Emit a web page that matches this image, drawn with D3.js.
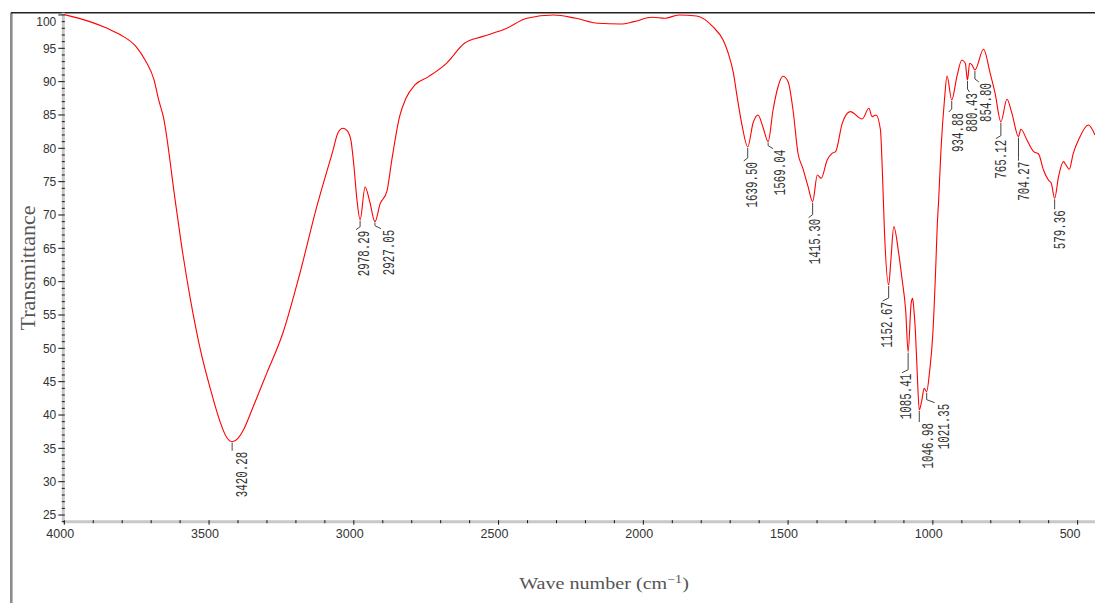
<!DOCTYPE html>
<html>
<head>
<meta charset="utf-8">
<script src="https://cdn.jsdelivr.net/npm/d3@7/dist/d3.min.js"></script>
<style>
    body { margin: 0; background: #fff; }
    svg { display: block; }
</style>
</head>
<body>
<div id="chart"></div>
<script>
// spectrum (wave number in cm-1, transmittance in %)
var waveNumbers = [4000, 3912, 3852, 3805, 3752, 3721, 3690, 3674, 3658, 3617, 3590, 3565, 3531, 3496, 3462, 3440,
    3420.28, 3400, 3382, 3348, 3301, 3245, 3186, 3128, 3072, 3055, 3038, 3024, 3010, 3000, 2989, 2978.29, 2961, 2945,
    2927.05, 2909, 2886, 2869, 2842, 2820, 2789, 2742, 2680, 2618, 2557, 2480, 2402, 2310, 2233, 2157, 2079, 2032,
    1970, 1925, 1878, 1816, 1759, 1724, 1707, 1689, 1676, 1658, 1639.5, 1621, 1604, 1587, 1569.04, 1552, 1535, 1518,
    1500, 1483, 1466, 1449, 1431, 1415.3, 1399, 1386, 1365, 1348, 1336, 1313, 1285, 1244, 1221, 1210, 1196, 1181,
    1175, 1167, 1152.67, 1145, 1135, 1118, 1106, 1094, 1085.41, 1075, 1070, 1066, 1060, 1054, 1046.98, 1038, 1030,
    1021.35, 1012, 1000, 990, 985, 980, 972, 960, 951, 934.88, 917, 900, 888, 880.43, 873, 865, 854.8, 825, 802, 785,
    765.12, 744, 727, 704.27, 696, 675, 652, 635, 618, 601, 591, 579.36, 566, 549, 540, 529, 515, 497, 463, 440];
var transmittance = [100.05, 99.0, 98.0, 97.0, 95.25, 93.25, 90.25, 87.25, 84.75, 72.2, 64.0, 57.5, 50.0, 44.0, 39.0, 36.7,
    36.0, 36.5, 37.7, 41.2, 46.25, 52.3, 61.3, 71.25, 79.7, 82.3, 83.0, 82.7, 81.2, 77.5, 72.2, 69.3, 74.2, 72.0,
    69.0, 71.7, 73.5, 78.2, 84.75, 87.5, 89.5, 90.75, 92.75, 95.75, 96.75, 97.85, 99.5, 100.0, 99.5, 98.75, 98.65, 99.0,
    99.65, 99.5, 100.0, 99.85, 98.2, 96.2, 94.3, 91.3, 87.7, 83.2, 80.2, 83.8, 85.0, 83.2, 81.0, 85.75, 89.2, 90.8,
    90.0, 85.75, 79.3, 77.0, 74.25, 72.0, 76.0, 75.5, 78.25, 79.25, 79.5, 83.75, 85.5, 84.4, 86.0, 84.75, 85.0, 82.75,
    77.25, 67.3, 59.5, 63.25, 68.25, 64.25, 60.25, 55.75, 49.5, 56.75, 57.5, 56.0, 52.25, 46.25, 40.75, 42.25, 44.0,
    43.5, 46.25, 52.25, 62.25, 68.25, 72.25, 79.75, 87.25, 90.85, 87.25, 90.75, 93.25, 92.75, 90.25, 92.75, 92.5,
    91.75, 94.85, 91.25, 88.25, 84.0, 87.35, 85.25, 81.75, 82.85, 81.25, 79.5, 79.15, 76.75, 75.25, 74.75, 72.5,
    75.75, 78.0, 77.5, 76.85, 79.25, 81.25, 83.5, 82.0];

// marked peaks
var peakWaveNumbers = [3420.28, 2978.29, 2927.05, 1639.50, 1569.04, 1415.30, 1152.67, 1085.41, 1046.98, 1021.35,
    934.88, 880.43, 854.80, 765.12, 704.27, 579.36];
var peakTransmittance = [36.0, 69.3, 69.0, 80.2, 81.0, 72.0, 59.5, 49.5, 40.75, 43.5,
    87.25, 90.25, 91.75, 84.0, 81.75, 72.5];

var xTicks = [4000, 3500, 3000, 2500, 2000, 1500, 1000, 500];
var yTicks = [25, 30, 35, 40, 45, 50, 55, 60, 65, 70, 75, 80, 85, 90, 95, 100];

// label placement: [text offset x, gap below curve, hook of leader]
var labelPlacement = [[9, 10, 0], [3, 11, -4], [13, 8, 6], [3, 15, -4], [11, 8, 5], [1, 17, -4], [-3, 17, -6],
    [-3, 22, -6], [8, 13, 0], [16, 12, 8], [5, 13, -3], [4, 13, 2], [10, 13, 4], [-1, 18, -5], [5, 25, 0], [4, 12, 0]];

var width = 1095, height = 603;
var plotLeft = 64.3, plotRight = 1095, plotTop = 12.7, plotBottom = 521.7;

var svg = d3.select("#chart")
    .append("svg")
    .attr("width", width)
    .attr("height", height);

var x = d3.scaleLinear().domain([4000, 440]).range([plotLeft, plotRight]);
var y = d3.scaleLinear().domain([24, 100.34]).range([plotBottom, plotTop]);

// frame: grey bar on the left, dark line on top
svg.append("rect")
    .attr("x", 10).attr("y", plotTop).attr("width", 2.6).attr("height", height - plotTop)
    .attr("fill", "#8c8c8c");
svg.append("line")
    .attr("x1", 11).attr("x2", width).attr("y1", plotTop).attr("y2", plotTop)
    .attr("stroke", "#222").attr("stroke-width", 1.5);

// axis lines
svg.append("line")
    .attr("x1", plotLeft - 1).attr("x2", plotLeft - 1).attr("y1", plotTop).attr("y2", plotBottom)
    .attr("stroke", "#c8c8c8").attr("stroke-width", 3);
svg.append("line")
    .attr("x1", plotLeft - 1).attr("x2", width).attr("y1", plotBottom).attr("y2", plotBottom)
    .attr("stroke", "#c8c8c8").attr("stroke-width", 3);

// y axis ticks
var yMinor = d3.range(24, 101, 1);
svg.append("g").selectAll("line")
    .data(yMinor)
    .enter().append("line")
    .attr("x1", function(d) { return d % 5 === 0 ? plotLeft - 6 : plotLeft - 2.5; })
    .attr("x2", plotLeft + 0.5)
    .attr("y1", function(d) { return y(d); })
    .attr("y2", function(d) { return y(d); })
    .attr("stroke", "#111").attr("stroke-width", 1);

// the top label is pushed down below the frame line, as in the original
svg.append("g").selectAll("text")
    .data(yTicks)
    .enter().append("text")
    .attr("x", plotLeft - 8)
    .attr("y", function(d) { return Math.max(y(d), plotTop + 8.5); })
    .attr("dy", "0.36em")
    .attr("text-anchor", "end")
    .attr("font-family", "Liberation Sans, Arial, sans-serif")
    .attr("font-size", 12)
    .attr("fill", "#333")
    .text(function(d) { return d; });

// x axis ticks
var xMinor = d3.range(4000, 440, -100);
svg.append("g").selectAll("line")
    .data(xMinor)
    .enter().append("line")
    .attr("x1", function(d) { return x(d); })
    .attr("x2", function(d) { return x(d); })
    .attr("y1", plotBottom - 1.5)
    .attr("y2", function(d) { return d % 500 === 0 ? plotBottom + 3 : plotBottom + 1.5; })
    .attr("stroke", "#111").attr("stroke-width", 1);

svg.append("g").selectAll("text")
    .data(xTicks)
    .enter().append("text")
    .attr("x", function(d) { return x(d) - 18; })
    .attr("y", plotBottom + 16.5)
    .attr("font-family", "Liberation Sans, Arial, sans-serif")
    .attr("font-size", 12.5)
    .attr("fill", "#333")
    .text(function(d) { return d; });

// axis titles
svg.append("text")
    .attr("transform", "translate(35,268) rotate(-90)")
    .attr("text-anchor", "middle")
    .attr("font-family", "Liberation Serif, Times New Roman, serif")
    .attr("font-size", 22)
    .attr("fill", "#555")
    .text("Transmittance");

var xTitle = svg.append("text")
    .attr("transform", "translate(604,589) scale(1.22,1)")
    .attr("text-anchor", "middle")
    .attr("font-family", "Liberation Serif, Times New Roman, serif")
    .attr("font-size", 16.5)
    .attr("fill", "#555");
xTitle.append("tspan").text("Wave number (cm");
xTitle.append("tspan").attr("dy", -6).attr("font-size", 11.5).text("\u22121");
xTitle.append("tspan").attr("dy", 6).text(")");

// spectrum line
var points = waveNumbers.map(function(d, i) { return [d, transmittance[i]]; });
var line = d3.line()
    .x(function(d) { return x(d[0]); })
    .y(function(d) { return y(d[1]); })
    .curve(d3.curveMonotoneX);

svg.append("path")
    .datum(points)
    .attr("d", line)
    .attr("fill", "none")
    .attr("stroke", "#ff0000")
    .attr("stroke-width", 1.1);

// peak markers and labels
var peaks = peakWaveNumbers.map(function(d, i) {
    return { wn: d, t: peakTransmittance[i], place: labelPlacement[i] };
});

var peakGroup = svg.append("g");
peakGroup.selectAll("path")
    .data(peaks)
    .enter().append("path")
    .attr("d", function(d) {
        var px = x(d.wn), py = y(d.t);
        var gap = d.place[1];
        return "M" + px + "," + (py + 1) + "V" + (py + gap - 4) + "L" + (px + d.place[2]) + "," + (py + gap - 1);
    })
    .attr("fill", "none")
    .attr("stroke", "#444")
    .attr("stroke-width", 1);

peakGroup.selectAll("text")
    .data(peaks)
    .enter().append("text")
    .attr("transform", function(d) {
        var px = x(d.wn) + d.place[0], py = y(d.t) + d.place[1];
        return "translate(" + px + "," + py + ") rotate(-90)";
    })
    .attr("text-anchor", "end")
    .attr("dy", "0.36em")
    .attr("font-family", "Liberation Mono, DejaVu Sans Mono, monospace")
    .attr("font-size", 16.5)
    .attr("textLength", function(d) { return d.wn.toFixed(2).length * 6.5; })
    .attr("lengthAdjust", "spacingAndGlyphs")
    .attr("fill", "#333")
    .text(function(d) { return d.wn.toFixed(2); });
</script>
</body>
</html>
